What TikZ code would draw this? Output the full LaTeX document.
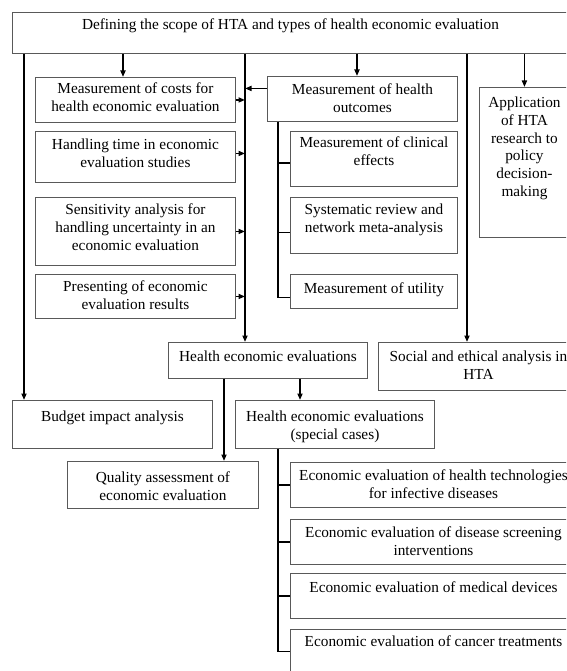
\documentclass[tikz,border=0pt]{standalone}
\usepackage{fontspec}
\setmainfont{Liberation Serif}
\usetikzlibrary{arrows.meta,calc}
\newcommand\bxt[4]{\parbox[t][#2][t]{#1}{\centering\rule{0pt}{#3}#4\par}}
\tikzset{
  bx/.style={draw=black!65, line width=0.9pt, inner sep=0pt, anchor=north west,
    font=\fontsize{15.3}{17.8}\selectfont},
  arr/.style={line width=1.6pt, -{Triangle[length=6.5pt,width=5pt]}},
  ln/.style={line width=1.6pt}
}
\begin{document}
\begin{tikzpicture}[x=1pt,y=-1pt]
\useasboundingbox (0,0) rectangle (566,671);
\fill[white] (0,0) rectangle (566,671);
\clip (0,0) rectangle (566,671);

\node[bx] (top) at (12,12) {\bxt{556pt}{41pt}{17pt}{Defining the scope of HTA and types of health economic evaluation}};
\node[bx] (cost) at (35,77) {\bxt{200pt}{45pt}{16pt}{Measurement of costs for\\health economic evaluation}};
\node[bx] (handling) at (35,131) {\bxt{200pt}{51pt}{18pt}{Handling time in economic\\evaluation studies}};
\node[bx] (sens) at (35,197) {\bxt{200pt}{68pt}{17pt}{Sensitivity analysis for\\handling uncertainty in an\\economic evaluation}};
\node[bx] (pres) at (35,274) {\bxt{200pt}{44pt}{17pt}{Presenting of economic\\evaluation results}};
\node[bx] (outc) at (267,76) {\bxt{190pt}{45pt}{18pt}{Measurement of health\\outcomes}};
\node[bx] (clin) at (290,131) {\bxt{167pt}{55pt}{16pt}{Measurement of clinical\\effects}};
\node[bx] (sysrev) at (290,197) {\bxt{167pt}{56pt}{17pt}{Systematic review and\\network meta-analysis}};
\node[bx] (util) at (290,274) {\bxt{167pt}{34pt}{19pt}{Measurement of utility}};
\node[bx] (appl) at (479,87) {\bxt{90pt}{150pt}{20pt}{Application\\of HTA\\research to\\policy\\decision-\\making}};
\node[bx] (hee) at (168,342) {\bxt{199pt}{36pt}{19pt}{Health economic evaluations}};
\node[bx] (social) at (378,342) {\bxt{200pt}{48pt}{19pt}{Social and ethical analysis in\\HTA}};
\node[bx] (budget) at (12,400) {\bxt{200pt}{48pt}{21pt}{Budget impact analysis}};
\node[bx] (special) at (235,400) {\bxt{199pt}{48pt}{21pt}{Health economic evaluations\\(special cases)}};
\node[bx] (quality) at (67,461) {\bxt{191pt}{47pt}{21pt}{Quality assessment of\\economic evaluation}};
\node[bx] (infect) at (290,462) {\bxt{286pt}{45pt}{18pt}{Economic evaluation of health technologies\\for infective diseases}};
\node[bx] (screen) at (290,519) {\bxt{286pt}{45pt}{18pt}{Economic evaluation of disease screening\\interventions}};
\node[bx] (devices) at (290,573) {\bxt{286pt}{45pt}{19pt}{Economic evaluation of medical devices}};
\node[bx] (cancer) at (290,629) {\bxt{286pt}{44pt}{17pt}{Economic evaluation of cancer treatments}};

\coordinate (xL) at (24,0);
\coordinate (xC) at (123,0);
\coordinate (xM) at (245,0);
\coordinate (xO) at (357,0);
\coordinate (xR) at (467,0);
\coordinate (xB) at (278,0);
\coordinate (xQ) at (224,0);
\coordinate (xS) at (300,0);

\draw[arr] (xL |- top.south) -- (xL |- budget.north);
\draw[arr] (xC |- top.south) -- (xC |- cost.north);
\draw[arr] (xM |- top.south) -- (xM |- hee.north);
\draw[arr] (xO |- top.south) -- (xO |- outc.north);
\draw[arr] (xR |- top.south) -- (xR |- social.north);
\draw[arr] (appl.north |- top.south) -- (appl.north);

\coordinate (k1) at (cost.east);
\coordinate (k2) at ([yshift=3.5pt]handling.east);
\coordinate (k3) at (sens.east);
\coordinate (k4) at (pres.east);
\coordinate (o1) at ([yshift=10.5pt]outc.west);
\draw[arr] (k1) -- (k1 -| xM);
\draw[arr] (k2) -- (k2 -| xM);
\draw[arr] (k3) -- (k3 -| xM);
\draw[arr] (k4) -- (k4 -| xM);
\draw[arr] (o1) -- (o1 -| xM);

\coordinate (c1) at ([yshift=-4pt]clin.west);
\coordinate (s1) at ([yshift=-7pt]sysrev.west);
\coordinate (u1) at ([yshift=-6pt]util.west);
\draw[ln] (xB |- outc.south) -- (xB |- u1) -- (u1);
\draw[ln] (c1 -| xB) -- (c1);
\draw[ln] (s1 -| xB) -- (s1);

\draw[arr] (xS |- hee.south) -- (xS |- special.north);
\draw[arr] (xQ |- hee.south) -- (xQ |- quality.north);

\draw[ln] (xB |- special.south) -- (xB |- cancer.west) -- (cancer.west);
\draw[ln] (xB |- infect.west) -- (infect.west);
\draw[ln] (xB |- screen.west) -- (screen.west);
\draw[ln] (xB |- devices.west) -- (devices.west);
\end{tikzpicture}
\end{document}
